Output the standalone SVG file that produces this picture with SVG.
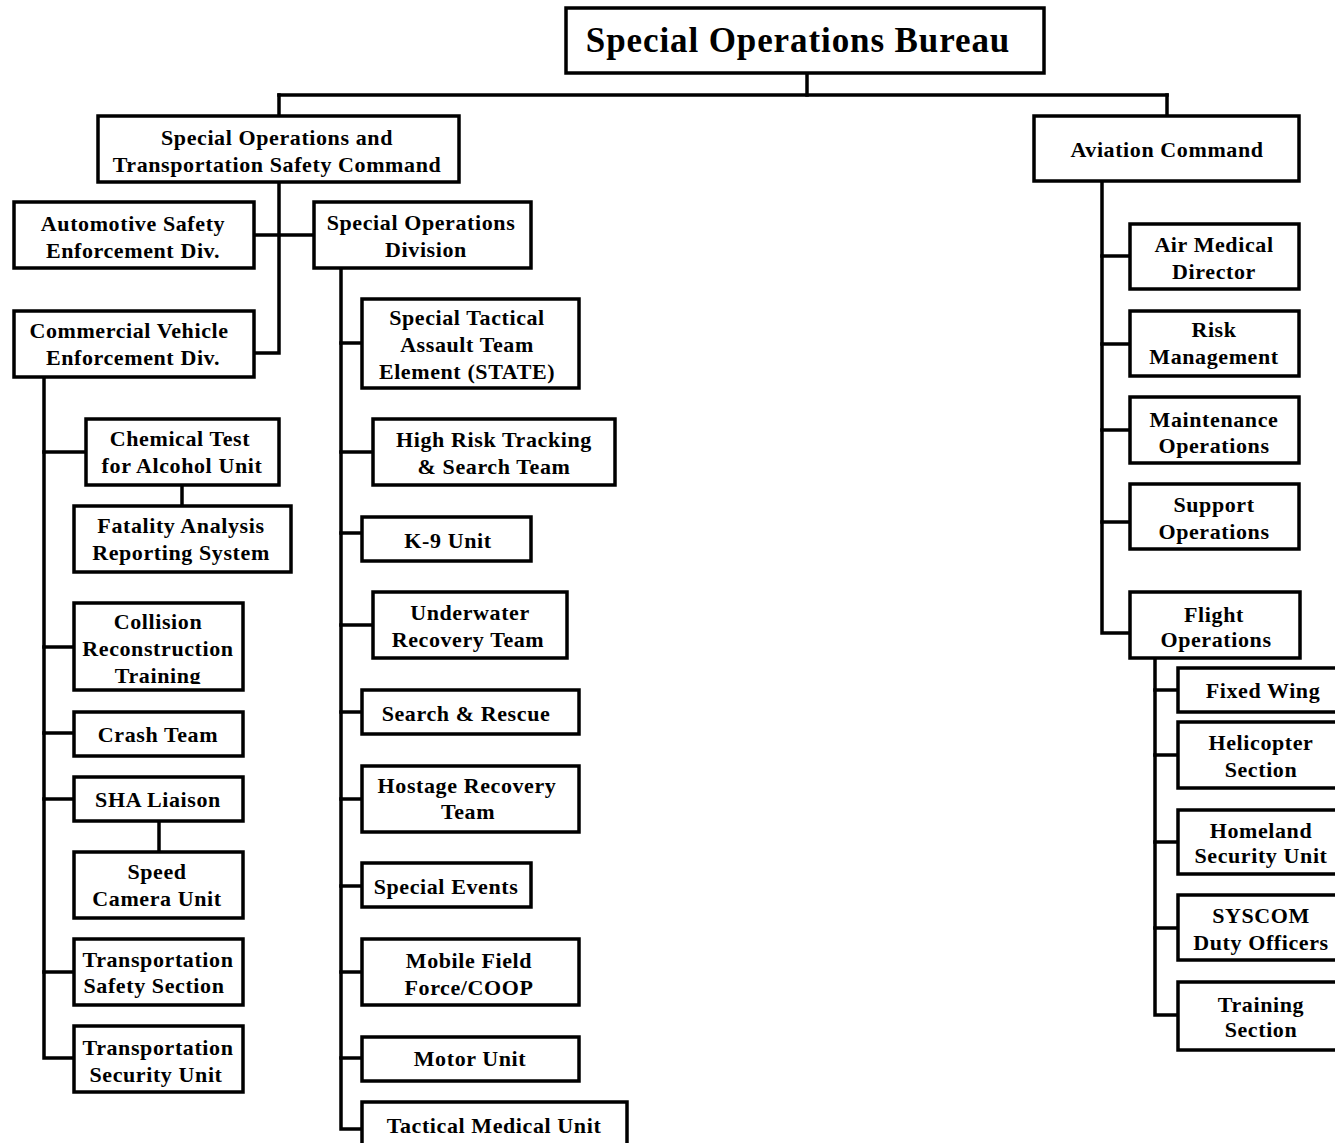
<svg xmlns="http://www.w3.org/2000/svg" width="1335" height="1143" viewBox="0 0 1335 1143">
<style>
  .box { fill: #ffffff; stroke: #000000; stroke-width: 3.5; }
  .conn { fill: none; stroke: #000000; stroke-width: 3.5; stroke-linejoin: miter; stroke-linecap: square; }
  text { font-family: "Liberation Serif", "Times New Roman", serif; font-weight: bold; fill: #000000; text-anchor: middle; }
  .t { font-size: 22px; letter-spacing: 0.6px; }
  .title { font-size: 35px; letter-spacing: 0.9px; }
</style>
<defs>
  <clipPath id="clipCollision"><rect x="74" y="603" width="169" height="81"/></clipPath>
</defs>
<rect x="0" y="0" width="1335" height="1143" fill="#ffffff"/>

<g id="connectors">
  <path class="conn" d="M807,73 V95"/>
  <path class="conn" d="M279,95 H1167"/>
  <path class="conn" d="M279,95 V116"/>
  <path class="conn" d="M1167,95 V116"/>
  <path class="conn" d="M279,182 V353 H254"/>
  <path class="conn" d="M254,235 H314"/>
  <path class="conn" d="M44,377 V1058 H74"/>
  <path class="conn" d="M44,452 H86"/>
  <path class="conn" d="M182,485 V506"/>
  <path class="conn" d="M44,647 H74"/>
  <path class="conn" d="M44,733 H74"/>
  <path class="conn" d="M44,799 H74"/>
  <path class="conn" d="M159,821 V852"/>
  <path class="conn" d="M44,972 H74"/>
  <path class="conn" d="M341,268 V1129 H362"/>
  <path class="conn" d="M341,343 H362"/>
  <path class="conn" d="M341,452 H373"/>
  <path class="conn" d="M341,533 H362"/>
  <path class="conn" d="M341,625 H373"/>
  <path class="conn" d="M341,712 H362"/>
  <path class="conn" d="M341,799 H362"/>
  <path class="conn" d="M341,886 H362"/>
  <path class="conn" d="M341,972 H362"/>
  <path class="conn" d="M341,1058 H362"/>
  <path class="conn" d="M1102,181 V633 H1130"/>
  <path class="conn" d="M1102,256 H1130"/>
  <path class="conn" d="M1102,344 H1130"/>
  <path class="conn" d="M1102,430 H1130"/>
  <path class="conn" d="M1102,522 H1130"/>
  <path class="conn" d="M1155,658 V1015 H1178"/>
  <path class="conn" d="M1155,690 H1178"/>
  <path class="conn" d="M1155,755 H1178"/>
  <path class="conn" d="M1155,842 H1178"/>
  <path class="conn" d="M1155,928 H1178"/>
</g>

<g id="bureau">
  <rect class="box" x="566" y="8" width="478" height="65"/>
  <text class="title" x="798" y="52">Special Operations Bureau</text>
</g>
<g id="sots-command">
  <rect class="box" x="98" y="116" width="361" height="66"/>
  <text class="t" x="277" y="145">Special Operations and</text>
  <text class="t" x="277" y="172">Transportation Safety Command</text>
</g>
<g id="aviation-command">
  <rect class="box" x="1034" y="116" width="265" height="65"/>
  <text class="t" x="1167" y="157">Aviation Command</text>
</g>

<g id="automotive-safety">
  <rect class="box" x="14" y="202" width="240" height="66"/>
  <text class="t" x="133" y="231">Automotive Safety</text>
  <text class="t" x="133" y="258">Enforcement Div.</text>
</g>
<g id="special-operations-division">
  <rect class="box" x="314" y="202" width="217" height="66"/>
  <text class="t" x="421" y="230">Special Operations</text>
  <text class="t" x="426" y="257">Division</text>
</g>
<g id="commercial-vehicle">
  <rect class="box" x="14" y="311" width="240" height="66"/>
  <text class="t" x="129" y="338">Commercial Vehicle</text>
  <text class="t" x="133" y="365">Enforcement Div.</text>
</g>

<g id="chemical-test">
  <rect class="box" x="86" y="419" width="193" height="66"/>
  <text class="t" x="180" y="446">Chemical Test</text>
  <text class="t" x="182" y="473">for Alcohol Unit</text>
</g>
<g id="fatality-analysis">
  <rect class="box" x="74" y="506" width="217" height="66"/>
  <text class="t" x="181" y="533">Fatality Analysis</text>
  <text class="t" x="181" y="560">Reporting System</text>
</g>
<g id="collision-reconstruction">
  <rect class="box" x="74" y="603" width="169" height="87"/>
  <g clip-path="url(#clipCollision)">
    <text class="t" x="158" y="629">Collision</text>
    <text class="t" x="158" y="656">Reconstruction</text>
    <text class="t" x="158" y="683">Training</text>
  </g>
</g>
<g id="crash-team">
  <rect class="box" x="74" y="712" width="169" height="44"/>
  <text class="t" x="158" y="742">Crash Team</text>
</g>
<g id="sha-liaison">
  <rect class="box" x="74" y="777" width="169" height="44"/>
  <text class="t" x="158" y="807">SHA Liaison</text>
</g>
<g id="speed-camera">
  <rect class="box" x="74" y="852" width="169" height="66"/>
  <text class="t" x="157" y="879">Speed</text>
  <text class="t" x="157" y="906">Camera Unit</text>
</g>
<g id="transportation-safety">
  <rect class="box" x="74" y="939" width="169" height="66"/>
  <text class="t" x="158" y="967">Transportation</text>
  <text class="t" x="154" y="993">Safety Section</text>
</g>
<g id="transportation-security">
  <rect class="box" x="74" y="1026" width="169" height="66"/>
  <text class="t" x="158" y="1055">Transportation</text>
  <text class="t" x="156" y="1082">Security Unit</text>
</g>

<g id="state">
  <rect class="box" x="362" y="299" width="217" height="89"/>
  <text class="t" x="467" y="325">Special Tactical</text>
  <text class="t" x="467" y="352">Assault Team</text>
  <text class="t" x="467" y="379">Element (STATE)</text>
</g>
<g id="high-risk">
  <rect class="box" x="373" y="419" width="242" height="66"/>
  <text class="t" x="494" y="447">High Risk Tracking</text>
  <text class="t" x="494" y="474">&amp; Search  Team</text>
</g>
<g id="k9">
  <rect class="box" x="362" y="517" width="169" height="44"/>
  <text class="t" x="448" y="548">K-9 Unit</text>
</g>
<g id="underwater">
  <rect class="box" x="373" y="592" width="194" height="66"/>
  <text class="t" x="470" y="620">Underwater</text>
  <text class="t" x="468" y="647">Recovery Team</text>
</g>
<g id="search-rescue">
  <rect class="box" x="362" y="690" width="217" height="44"/>
  <text class="t" x="466" y="721">Search &amp; Rescue</text>
</g>
<g id="hostage-recovery">
  <rect class="box" x="362" y="766" width="217" height="66"/>
  <text class="t" x="467" y="793">Hostage Recovery</text>
  <text class="t" x="468" y="819">Team</text>
</g>
<g id="special-events">
  <rect class="box" x="362" y="863" width="169" height="44"/>
  <text class="t" x="446" y="894">Special Events</text>
</g>
<g id="mobile-field">
  <rect class="box" x="362" y="939" width="217" height="66"/>
  <text class="t" x="469" y="968">Mobile Field</text>
  <text class="t" x="469" y="995">Force/COOP</text>
</g>
<g id="motor-unit">
  <rect class="box" x="362" y="1037" width="217" height="44"/>
  <text class="t" x="470" y="1066">Motor Unit</text>
</g>
<g id="tactical-medical">
  <rect class="box" x="362" y="1102" width="265" height="60"/>
  <text class="t" x="494" y="1133">Tactical Medical Unit</text>
</g>

<g id="air-medical">
  <rect class="box" x="1130" y="224" width="169" height="65"/>
  <text class="t" x="1214" y="252">Air Medical</text>
  <text class="t" x="1214" y="279">Director</text>
</g>
<g id="risk-management">
  <rect class="box" x="1130" y="311" width="169" height="65"/>
  <text class="t" x="1214" y="337">Risk</text>
  <text class="t" x="1214" y="364">Management</text>
</g>
<g id="maintenance-operations">
  <rect class="box" x="1130" y="397" width="169" height="66"/>
  <text class="t" x="1214" y="427">Maintenance</text>
  <text class="t" x="1214" y="453">Operations</text>
</g>
<g id="support-operations">
  <rect class="box" x="1130" y="484" width="169" height="65"/>
  <text class="t" x="1214" y="512">Support</text>
  <text class="t" x="1214" y="539">Operations</text>
</g>
<g id="flight-operations">
  <rect class="box" x="1130" y="592" width="170" height="66"/>
  <text class="t" x="1214" y="622">Flight</text>
  <text class="t" x="1216" y="647">Operations</text>
</g>
<g id="fixed-wing">
  <rect class="box" x="1178" y="668" width="170" height="44"/>
  <text class="t" x="1263" y="698">Fixed Wing</text>
</g>
<g id="helicopter-section">
  <rect class="box" x="1178" y="722" width="170" height="66"/>
  <text class="t" x="1261" y="750">Helicopter</text>
  <text class="t" x="1261" y="777">Section</text>
</g>
<g id="homeland-security">
  <rect class="box" x="1178" y="810" width="170" height="64"/>
  <text class="t" x="1261" y="838">Homeland</text>
  <text class="t" x="1261" y="863">Security Unit</text>
</g>
<g id="syscom">
  <rect class="box" x="1178" y="895" width="170" height="65"/>
  <text class="t" x="1261" y="923">SYSCOM</text>
  <text class="t" x="1261" y="950">Duty Officers</text>
</g>
<g id="training-section">
  <rect class="box" x="1178" y="982" width="170" height="68"/>
  <text class="t" x="1261" y="1012">Training</text>
  <text class="t" x="1261" y="1037">Section</text>
</g>
</svg>
